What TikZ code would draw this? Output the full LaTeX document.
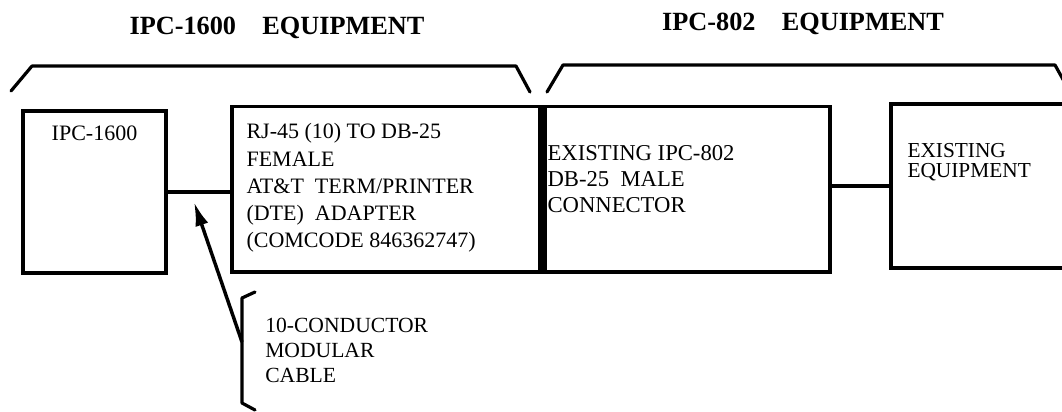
\documentclass[tikz,border=0pt]{standalone}
\usepackage{fontspec}
\setmainfont{Liberation Serif}
\usetikzlibrary{arrows.meta,positioning}

\tikzset{
  box/.style={draw, line width=2.6pt, inner sep=0pt},
  txt/.style={inner sep=0pt, align=left, font=\fontsize{16.5}{20.4}\selectfont},
  hdr/.style={inner sep=0pt, font=\fontsize{19.7}{22}\selectfont\bfseries},
  brace/.style={line width=2.4pt, line join=round, line cap=round},
  wire/.style={line width=2.6pt},
  lead/.style={line width=2.6pt, -{Latex[length=18pt,width=10pt]}},
}

\begin{document}
\begin{tikzpicture}[x=0.75pt,y=-0.75pt]
        \useasboundingbox (0,0) rectangle (1062,411);

        % group titles with their braces
        \node[hdr] (hdr1600) at (277,28) {IPC-1600\quad EQUIPMENT};
        \node[hdr] (hdr802) at (803,24) {IPC-802\quad EQUIPMENT};
        \draw[brace] (11,91) -- (32,66) -- (516,66) -- (530,92);
        \draw[brace] (547,92) -- (563,65) -- (1055,65) -- (1070,92);

        \node[box, minimum width=107.25pt, minimum height=121.5pt] (ipc) at (94.5,192) {};
        \node[box, minimum width=231.4pt, minimum height=124.1pt] (adapter) at (386.25,189.25) {};
        \node[box, minimum width=217.1pt, minimum height=124.1pt] (plug) at (685.25,189.25) {};
        \node[box, minimum width=141.75pt, minimum height=123pt] (equip) at (985.5,186) {};
        \draw[line width=6.8pt] ([yshift=-2.6pt]adapter.north east) -- (adapter.south east);

        \node[txt, anchor=north] (ipctxt) at ([shift={(0,16)}]ipc.north) {IPC-1600};
        \node[txt, anchor=north west] (adtxt) at ([shift={(16,18.5)}]adapter.north west)
          {RJ-45 (10) TO DB-25\\FEMALE\\AT\&T\enspace TERM/PRINTER\\(DTE)\enspace ADAPTER\\(COMCODE 846362747)};
        \node[txt, anchor=north west, font=\fontsize{17}{19.5}\selectfont] (plugtxt) at ([shift={(8.5,40.5)}]plug.north west)
          {EXISTING IPC-802\\DB-25\enspace MALE\\CONNECTOR};
        \node[txt, anchor=north west, font=\fontsize{16}{15}\selectfont] (equiptxt) at ([shift={(18,41)}]equip.north west)
          {EXISTING\\EQUIPMENT};

        \draw[wire] (ipc.east) -- (ipc.east -| adapter.west);
        \draw[wire] (plug.east |- equip.west) -- (equip.west);

        % cable callout
        \node[txt, anchor=north west, font=\fontsize{16.2}{18.8}\selectfont] (cable) at (265,318)
          {10-CONDUCTOR\\MODULAR\\CABLE};
        \coordinate (hook) at (242,342);
        \coordinate (tip) at (194,202);
        \draw[brace] (255,292) -- (242,298) -- (242,403) -- (255,410);
        \draw[lead] (hook) -- (tip);
\end{tikzpicture}
\end{document}
